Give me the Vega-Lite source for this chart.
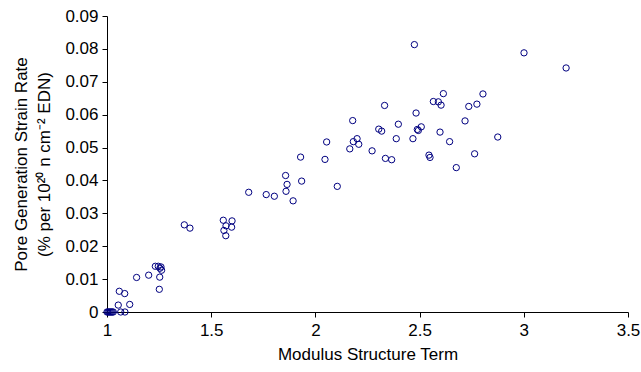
{
  "$schema": "https://vega.github.io/schema/vega-lite/v6.json",
  "width": 521,
  "height": 296,
  "autosize": {"type": "none"},
  "padding": {"left": 107, "top": 16, "right": 13, "bottom": 60},
  "background": "white",
  "config": {
    "view": {"stroke": null},
    "font": "Liberation Sans",
    "axis": {
      "grid": false,
      "domainColor": "black",
      "tickColor": "black",
      "labelColor": "black",
      "titleColor": "black",
      "labelFont": "Liberation Sans",
      "titleFont": "Liberation Sans",
      "labelFontSize": 17,
      "titleFontSize": 17,
      "titleFontWeight": "normal",
      "tickSize": 5,
      "domainWidth": 1,
      "tickWidth": 1
    }
  },
  "data": {
    "values": [
      {"x": 1.0, "y": 0}, {"x": 1.005, "y": 0}, {"x": 1.01, "y": 0}, {"x": 1.015, "y": 0},
      {"x": 1.02, "y": 0}, {"x": 1.025, "y": 0}, {"x": 1.03, "y": 0}, {"x": 1.066, "y": 0}, {"x": 1.086, "y": 0},
      {"x": 1.054, "y": 0.0021}, {"x": 1.109, "y": 0.0023}, {"x": 1.059, "y": 0.0063}, {"x": 1.085, "y": 0.0056},
      {"x": 1.142, "y": 0.0105}, {"x": 1.200, "y": 0.0112}, {"x": 1.232, "y": 0.0139}, {"x": 1.246, "y": 0.0139},
      {"x": 1.259, "y": 0.0137}, {"x": 1.254, "y": 0.0133}, {"x": 1.262, "y": 0.0127}, {"x": 1.253, "y": 0.0106},
      {"x": 1.251, "y": 0.0069}, {"x": 1.371, "y": 0.0265}, {"x": 1.398, "y": 0.0255},
      {"x": 1.558, "y": 0.0279}, {"x": 1.600, "y": 0.0277}, {"x": 1.571, "y": 0.0262}, {"x": 1.598, "y": 0.0258},
      {"x": 1.561, "y": 0.0248}, {"x": 1.570, "y": 0.0232},
      {"x": 1.680, "y": 0.0364}, {"x": 1.764, "y": 0.0357}, {"x": 1.803, "y": 0.0352}, {"x": 1.857, "y": 0.0415},
      {"x": 1.864, "y": 0.0388}, {"x": 1.859, "y": 0.0367}, {"x": 1.893, "y": 0.0338}, {"x": 1.929, "y": 0.0471},
      {"x": 1.934, "y": 0.0398},
      {"x": 2.046, "y": 0.0464}, {"x": 2.054, "y": 0.0517}, {"x": 2.105, "y": 0.0382}, {"x": 2.165, "y": 0.0496},
      {"x": 2.179, "y": 0.0582}, {"x": 2.182, "y": 0.0518}, {"x": 2.200, "y": 0.0527}, {"x": 2.208, "y": 0.0510},
      {"x": 2.272, "y": 0.0490}, {"x": 2.304, "y": 0.0556}, {"x": 2.318, "y": 0.0550}, {"x": 2.332, "y": 0.0628},
      {"x": 2.336, "y": 0.0467}, {"x": 2.366, "y": 0.0463}, {"x": 2.388, "y": 0.0527}, {"x": 2.398, "y": 0.0571},
      {"x": 2.468, "y": 0.0527}, {"x": 2.475, "y": 0.0813}, {"x": 2.483, "y": 0.0605}, {"x": 2.489, "y": 0.0555},
      {"x": 2.494, "y": 0.0552}, {"x": 2.508, "y": 0.0563}, {"x": 2.545, "y": 0.0477}, {"x": 2.550, "y": 0.0470},
      {"x": 2.566, "y": 0.0640}, {"x": 2.590, "y": 0.0639}, {"x": 2.598, "y": 0.0547}, {"x": 2.603, "y": 0.0629},
      {"x": 2.614, "y": 0.0664}, {"x": 2.644, "y": 0.0518}, {"x": 2.676, "y": 0.0439}, {"x": 2.718, "y": 0.0581},
      {"x": 2.736, "y": 0.0625}, {"x": 2.764, "y": 0.0481}, {"x": 2.775, "y": 0.0632}, {"x": 2.804, "y": 0.0663},
      {"x": 2.875, "y": 0.0532}, {"x": 3.001, "y": 0.0788}, {"x": 3.203, "y": 0.0742}
    ]
  },
  "mark": {"type": "point", "shape": "circle", "filled": false, "size": 40, "stroke": "#000080", "strokeWidth": 1, "opacity": 1, "clip": false},
  "encoding": {
    "x": {
      "field": "x", "type": "quantitative",
      "scale": {"domain": [1, 3.5], "nice": false, "zero": false},
      "axis": {"values": [1, 1.5, 2, 2.5, 3, 3.5], "format": "~f", "title": "Modulus Structure Term", "labelPadding": 5, "titlePadding": 8, "labelFlush": false}
    },
    "y": {
      "field": "y", "type": "quantitative",
      "scale": {"domain": [0, 0.09], "nice": false},
      "axis": {"values": [0, 0.01, 0.02, 0.03, 0.04, 0.05, 0.06, 0.07, 0.08, 0.09], "format": "~f", "title": ["Pore Generation Strain Rate", "(% per 10²⁰ n cm⁻² EDN)"], "titleLineHeight": 23, "labelPadding": 4, "titlePadding": 11, "labelFlush": false}
    }
  }
}
